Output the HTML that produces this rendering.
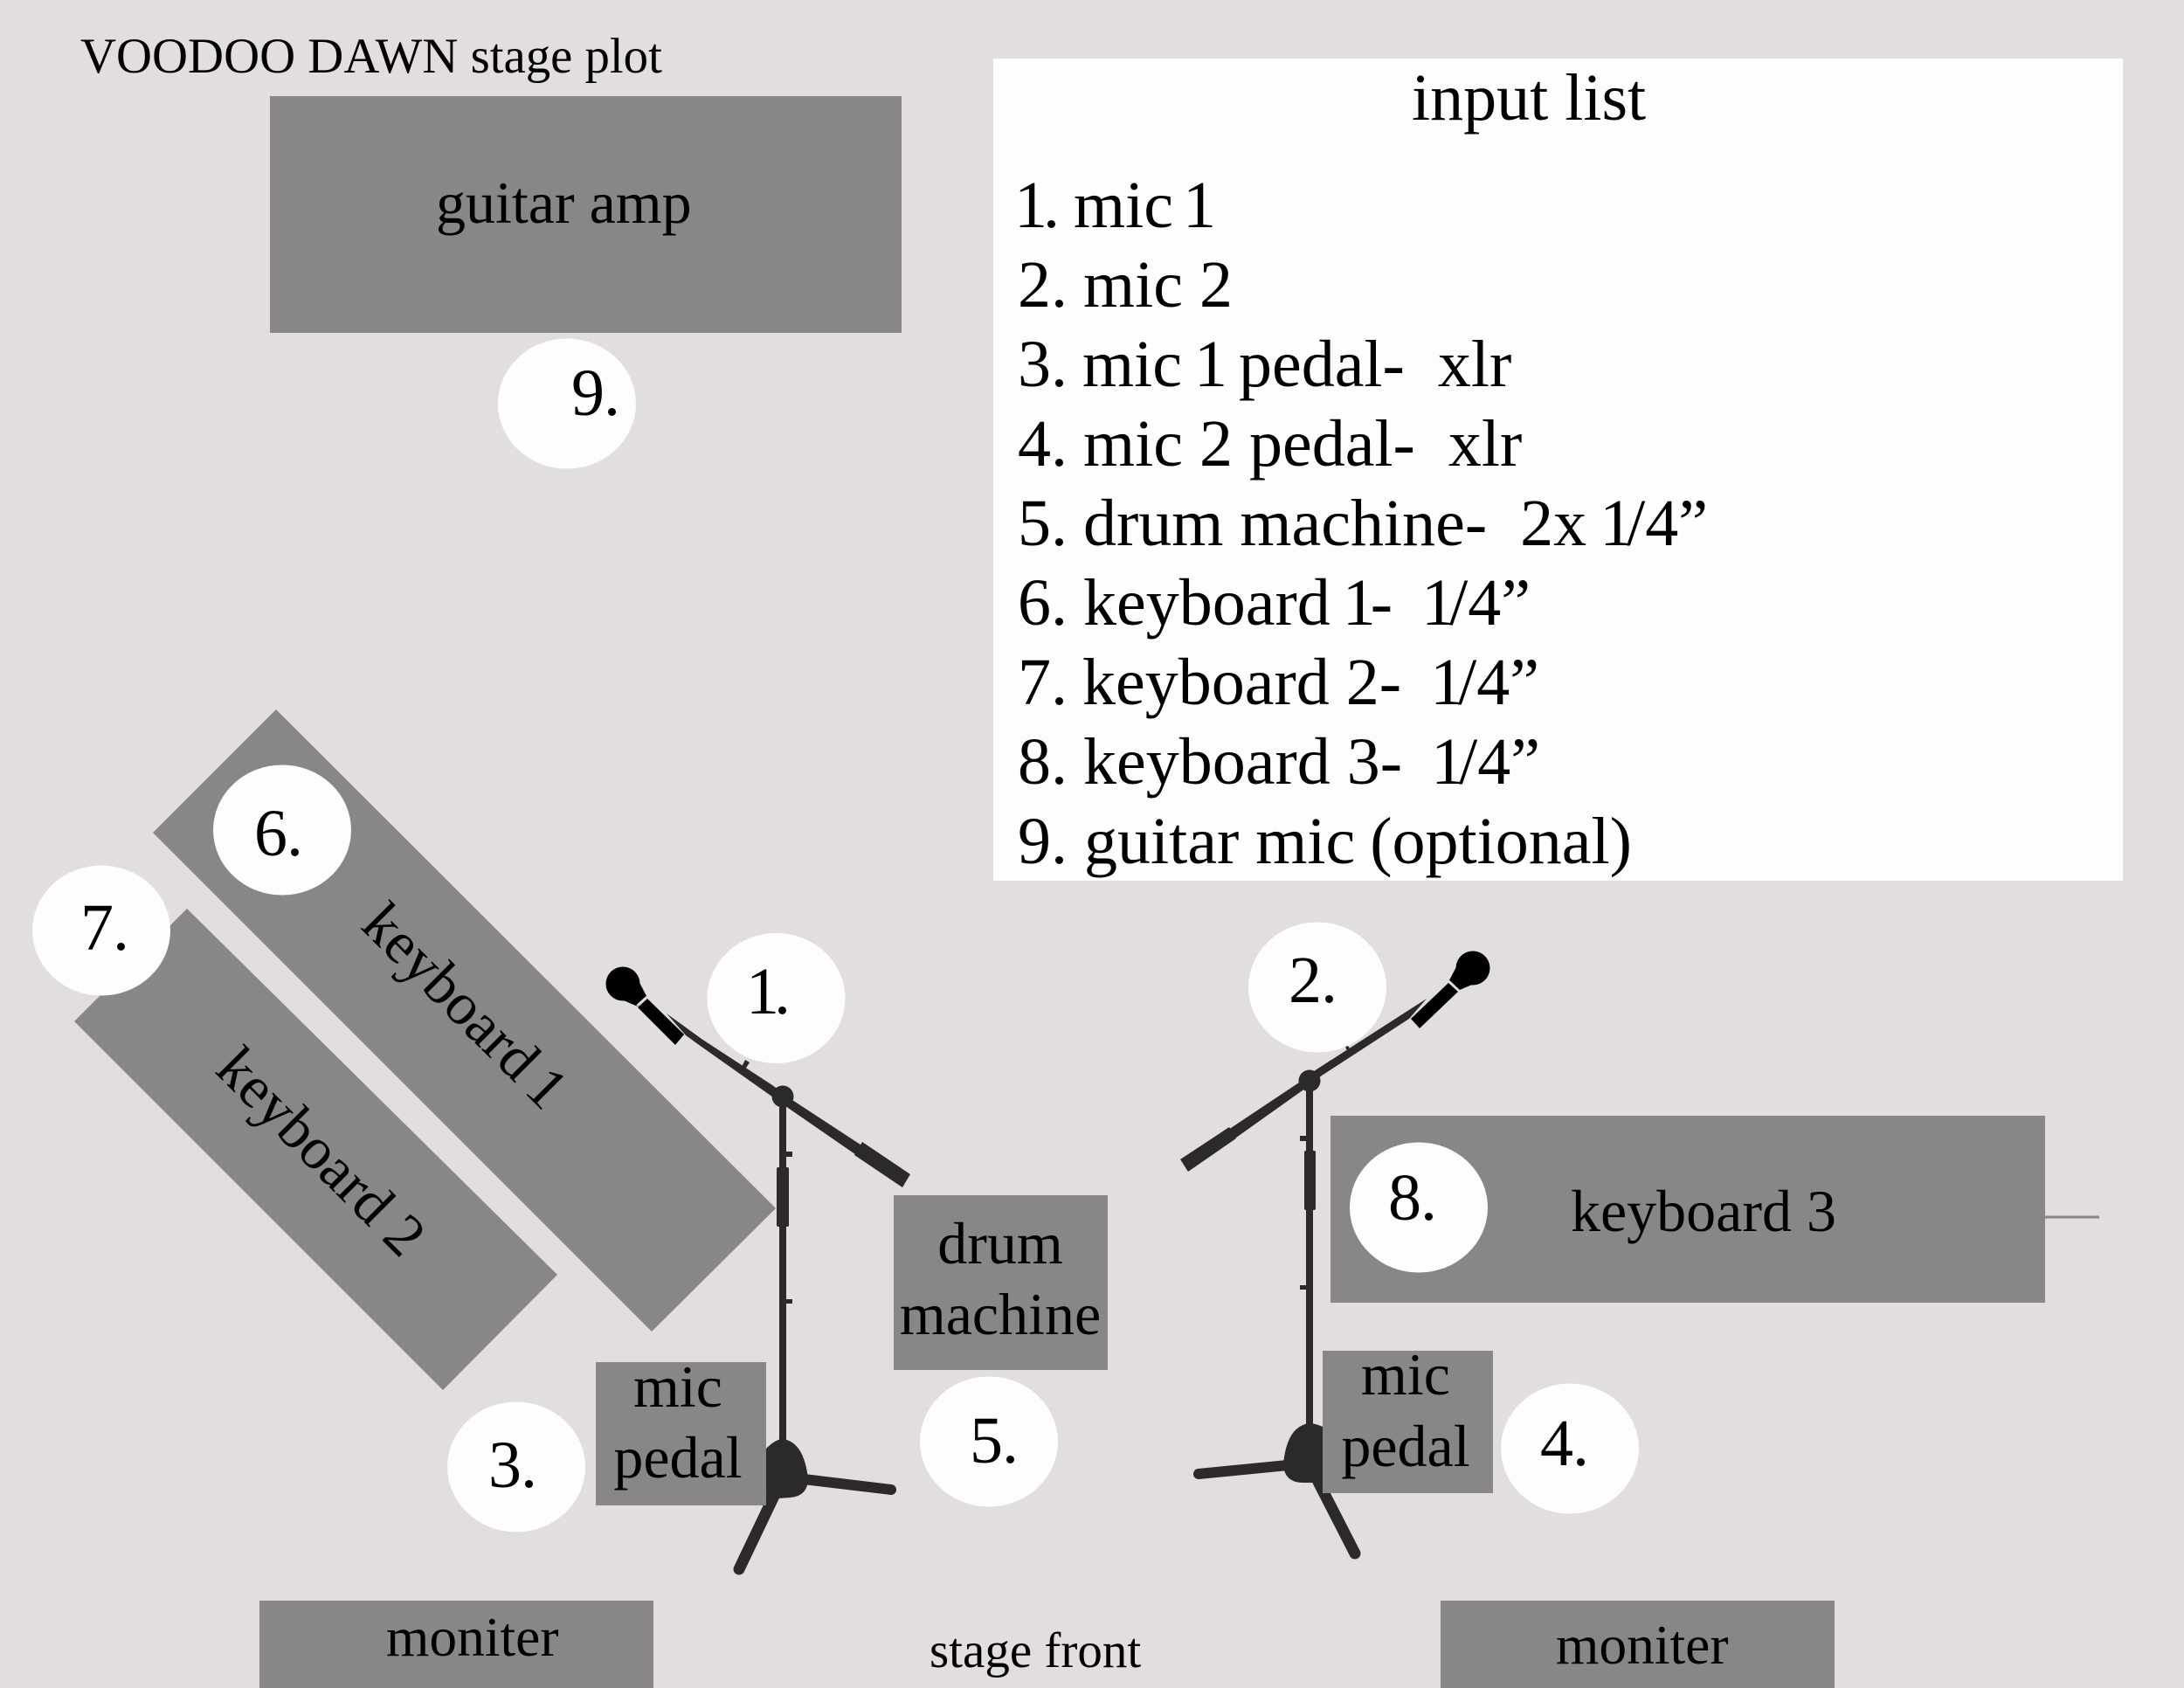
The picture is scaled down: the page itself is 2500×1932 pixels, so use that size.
<!DOCTYPE html>
<html><head><meta charset="utf-8"><style>
html,body{margin:0;padding:0;background:#e1dedd}
svg{display:block}
text{font-family:"Liberation Serif",serif;fill:#000;white-space:pre}
</style></head><body>
<svg xmlns="http://www.w3.org/2000/svg" width="2500" height="1932" viewBox="0 0 2500 1932">
<rect width="2500" height="1932" fill="#e1dedd"/>
<rect x="309" y="110" width="723" height="271" fill="#888786"/>
<rect x="1137" y="67" width="1293" height="941" fill="#fdfdfd"/>
<polygon points="316,812 888,1383 746,1524 175,953" fill="#888786"/>
<polygon points="214,1040 638,1459 507,1591 85,1169" fill="#888786"/>
<rect x="1023" y="1368" width="245" height="200" fill="#888786"/>
<rect x="1523" y="1277" width="818" height="214" fill="#888786"/>
<line x1="2341" y1="1393" x2="2403" y2="1393" stroke="#888786" stroke-width="3"/>
<rect x="297" y="1832" width="451" height="100" fill="#888786"/>
<rect x="1649" y="1832" width="451" height="100" fill="#888786"/>

<!-- mic 1 -->
<g fill="#000">
<circle cx="713" cy="1126" r="19.5"/>
<polygon points="726,1113 740,1140 730,1152 700,1139"/>
<polygon points="730,1153 741,1143 783,1184 773,1196"/>
</g>
<line x1="729" y1="1151" x2="740" y2="1141" stroke="#e1dedd" stroke-width="2"/>
<g fill="#2b292a">
<rect x="892" y="1255" width="8" height="400"/>
<rect x="889" y="1336" width="14" height="68" rx="2"/>
<rect x="899" y="1318" width="8" height="6"/>
<rect x="899" y="1487" width="8" height="5"/>
<polygon points="763,1160 803,1189 884,1242 907,1259 994,1316 986,1326 902,1268 878,1251 803,1198 785,1185"/>
<polygon points="987,1307 1042,1344 1033,1359 978,1322"/>
<circle cx="896" cy="1255" r="12.5"/>
<path d="M877,1658 Q888,1647 896,1647 Q920,1650 925,1692 Q925,1712 905,1714 L877,1716 Z"/>
<line x1="920" y1="1693" x2="1020" y2="1705" stroke="#2b292a" stroke-width="12" stroke-linecap="round"/>
<line x1="888" y1="1708" x2="846" y2="1796" stroke="#2b292a" stroke-width="13" stroke-linecap="round"/>
</g>

<!-- mic 2 -->
<g fill="#000">
<circle cx="1686" cy="1108" r="19.5"/>
<polygon points="1673,1095 1699,1121 1671,1133 1659,1122"/>
<polygon points="1658,1125 1669,1135 1625,1177 1615,1166"/>
</g>
<line x1="1659" y1="1123" x2="1670" y2="1134" stroke="#e1dedd" stroke-width="2"/>
<g fill="#2b292a">
<rect x="1495" y="1237" width="8" height="400"/>
<rect x="1493" y="1317" width="13" height="68" rx="2"/>
<rect x="1488" y="1300" width="8" height="6"/>
<rect x="1488" y="1471" width="8" height="5"/>
<polygon points="1633,1143 1507,1224 1487,1239 1400,1297 1408,1307 1491,1248 1513,1231 1613,1166"/>
<polygon points="1407,1290 1415,1303 1360,1341 1351,1327"/>
<polygon points="1540,1198 1543,1197 1547,1203 1543,1205"/>
<circle cx="1499" cy="1237" r="12.5"/>
<path d="M1514,1633 Q1505,1629 1499,1629 Q1473,1632 1469,1676 Q1470,1696 1490,1697 L1514,1697 Z"/>
<line x1="1474" y1="1677" x2="1372" y2="1687" stroke="#2b292a" stroke-width="12" stroke-linecap="round"/>
<line x1="1509" y1="1696" x2="1551" y2="1778" stroke="#2b292a" stroke-width="13" stroke-linecap="round"/>
</g>

<rect x="682" y="1559" width="195" height="164" fill="#888786"/>
<rect x="1514" y="1546" width="195" height="163" fill="#888786"/>

<g fill="#fdfdfd">
<ellipse cx="649" cy="462" rx="79" ry="74.5"/>
<ellipse cx="323" cy="950" rx="79" ry="74.5"/>
<ellipse cx="116" cy="1065" rx="79" ry="74.5"/>
<ellipse cx="888.5" cy="1142.5" rx="79" ry="74.5"/>
<ellipse cx="1508" cy="1130" rx="79" ry="74.5"/>
<ellipse cx="1624" cy="1382" rx="79" ry="74.5"/>
<ellipse cx="591" cy="1679" rx="79" ry="74.5"/>
<ellipse cx="1132" cy="1650" rx="79" ry="74.5"/>
<ellipse cx="1797" cy="1658" rx="79" ry="74.5"/>
</g>
<polygon points="853,1213 858,1216 853,1224 849,1221" fill="#2b292a"/>

<text x="92" y="83" font-size="56.8">VOODOO DAWN stage plot</text>
<text x="1616" y="137" font-size="76">input list</text>
<g font-size="76">
<text x="1161" y="260">1<tspan dx="-5">.</tspan></text><text x="1229" y="260">mic <tspan dx="-8">1</tspan></text>
<text x="1165" y="351">2.</text><text x="1240" y="351">mic 2</text>
<text x="1165" y="442">3.</text><text x="1239" y="442">mic <tspan dx="-5">1</tspan><tspan dx="-6"> pedal-  xlr</tspan></text>
<text x="1165" y="533">4.</text><text x="1240" y="533">mic 2 pedal-  xlr</text>
<text x="1165" y="624">5.</text><text x="1240" y="624">drum machine-  2x <tspan dx="-4">1</tspan><tspan dx="-7">/4”</tspan></text>
<text x="1165" y="715">6.</text><text x="1240" y="715">keyboard <tspan dx="-5">1</tspan><tspan dx="-6">-  </tspan><tspan dx="-5">1</tspan><tspan dx="-6">/4”</tspan></text>
<text x="1165" y="806">7.</text><text x="1239" y="806">keyboard 2-  <tspan dx="-5">1</tspan><tspan dx="-6">/4”</tspan></text>
<text x="1165" y="897">8.</text><text x="1240" y="897">keyboard 3-  <tspan dx="-5">1</tspan><tspan dx="-6">/4”</tspan></text>
<text x="1165" y="988">9.</text><text x="1241" y="988">guitar mic <tspan dx="-2">(optional)</tspan></text>
</g>
<g font-size="68">
<text x="499" y="255">guitar amp</text>
<text x="1145" y="1446" text-anchor="middle">drum</text>
<text x="1145" y="1527" text-anchor="middle">machine</text>
<text x="776" y="1610" text-anchor="middle">mic</text>
<text x="776" y="1691" text-anchor="middle">pedal</text>
<text x="1609" y="1596" text-anchor="middle">mic</text>
<text x="1609" y="1678" text-anchor="middle">pedal</text>
<text x="1798" y="1409">keyboard 3</text>
<text x="528" y="1156" text-anchor="middle" dominant-baseline="middle" transform="rotate(45 528 1156)">keyboard <tspan dx="-5">1</tspan></text>
<text x="363" y="1323" text-anchor="middle" dominant-baseline="middle" transform="rotate(45 363 1323)">keyboard 2</text>
</g>
<g font-size="63.5">
<text x="442" y="1895">moniter</text>
<text x="1781" y="1904">moniter</text>
</g>
<text x="1064" y="1908" font-size="57">stage front</text>
<g font-size="76" letter-spacing="-1">
<text x="654" y="475">9.</text>
<text x="291" y="979">6.</text>
<text x="92" y="1087">7.</text>
<text x="854" y="1160" letter-spacing="-6">1.</text>
<text x="1475" y="1147">2.</text>
<text x="1589" y="1396">8.</text>
<text x="559" y="1702">3.</text>
<text x="1110" y="1674">5.</text>
<text x="1763" y="1677">4.</text>
</g>
</svg>
</body></html>
